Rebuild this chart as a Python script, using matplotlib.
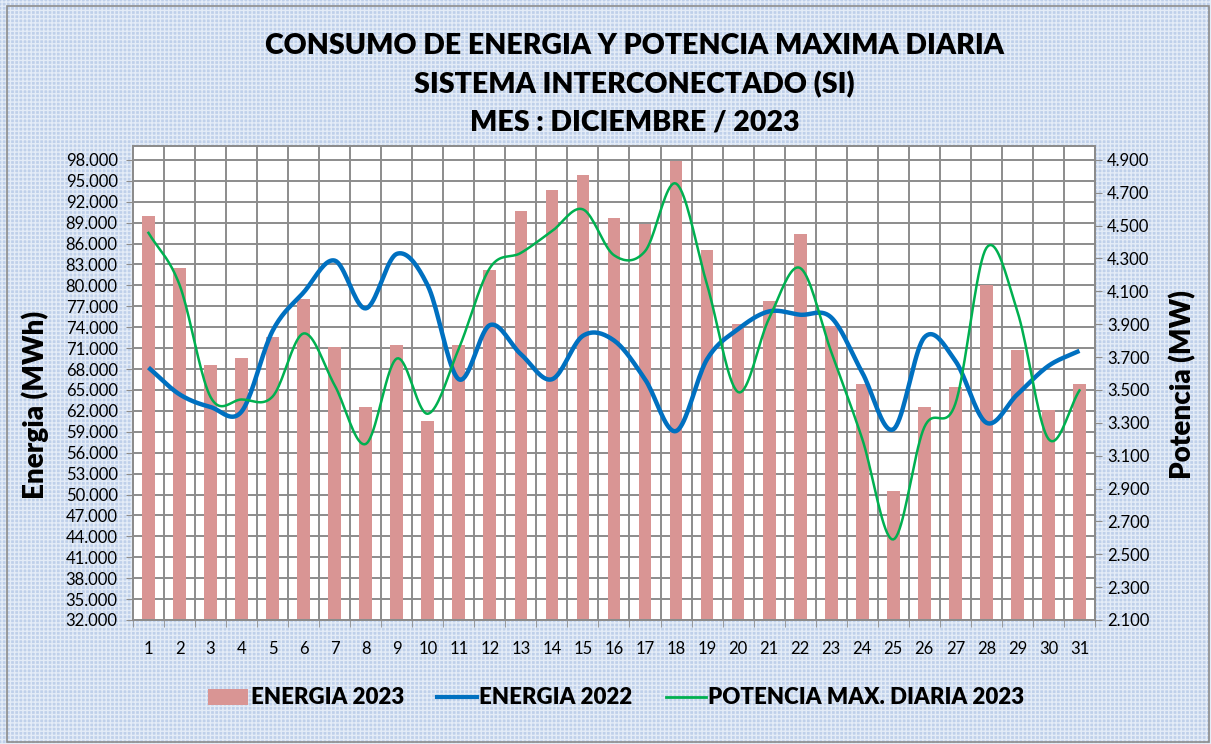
import matplotlib.pyplot as plt
import numpy as np
from matplotlib.patches import Rectangle, Patch
from matplotlib.lines import Line2D
from matplotlib.ticker import FuncFormatter

plt.rcParams['font.family'] = ['Lato', 'DejaVu Sans']

dias = np.arange(1, 32)

# MWh
energia_2023 = [89940, 82500, 68550, 69600, 72530, 78040, 71090, 62600, 71420, 60490,
                71420, 82210, 90650, 93720, 95790, 89600, 88830, 97900, 85090, 74440,
                77710, 87440, 74110, 65810, 50560, 62600, 65480, 80100, 70660, 62070,
                65810]
energia_2022 = [68210, 64370, 62550, 61900, 73490, 79000, 83560, 76700, 84520, 79960,
                66530, 74300, 70130, 66530, 72770, 72100, 66530, 59100, 69410, 73730,
                76270, 75790, 75400, 67490, 59340, 72530, 69170, 60300, 64370, 68450,
                70610]
# MW
potencia_2023 = [4456, 4140, 3457, 3442, 3460, 3844, 3528, 3171, 3691, 3355,
                 3752, 4242, 4334, 4466, 4599, 4320, 4344, 4756, 4140, 3487,
                 3936, 4242, 3732, 3202, 2590, 3273, 3416, 4364, 3977, 3202,
                 3497]


def suavizar(x, y, n=20):
    # catmull-rom, like excel's smoothed line
    x = np.asarray(x, float)
    y = np.asarray(y, float)
    px = np.concatenate([[2 * x[0] - x[1]], x, [2 * x[-1] - x[-2]]])
    py = np.concatenate([[2 * y[0] - y[1]], y, [2 * y[-1] - y[-2]]])
    xs, ys = [], []
    t = np.linspace(0, 1, n, endpoint=False)
    for i in range(1, len(px) - 2):
        for p, out in ((px, xs), (py, ys)):
            p0, p1, p2, p3 = p[i - 1], p[i], p[i + 1], p[i + 2]
            out.extend(0.5 * (2 * p1 + (-p0 + p2) * t + (2 * p0 - 5 * p1 + 4 * p2 - p3) * t ** 2
                              + (-p0 + 3 * p1 - 3 * p2 + p3) * t ** 3))
    xs.append(x[-1])
    ys.append(y[-1])
    return np.array(xs), np.array(ys)


fig = plt.figure(figsize=(12.11, 7.44), dpi=100)
fig.patch.set_facecolor('#BFD0EA')
fig.patches.append(Rectangle((0, 0), 1, 1, transform=fig.transFigure, facecolor='none',
                             edgecolor='#E4ECF7', hatch='++++', linewidth=0, zorder=-5))
fig.patches.append(Rectangle((0.006, 0.003), 0.992, 0.989, transform=fig.transFigure,
                             facecolor='none', edgecolor='#8C8C8C', linewidth=1.2))

ax = fig.add_axes([0.1098, 0.1667, 0.7944, 0.6371])
ax.set_facecolor('white')
grid_c = '#8C8C8C'

ax.bar(dias, energia_2023, width=0.41, color='#D99594', zorder=2)
bx, by = suavizar(dias, energia_2022)
ax.plot(bx, by, color='#0070C0', linewidth=3.2, zorder=3, solid_capstyle='butt')

ax.set_xlim(0.5, 31.5)
ax.set_ylim(32000, 100000)
ax.set_yticks(np.arange(32000, 98001, 3000))
fmt = FuncFormatter(lambda v, p: f'{int(v):,}'.replace(',', '.'))
ax.yaxis.set_major_formatter(fmt)
ax.set_xticks(dias)
ax.set_xticks(np.arange(0.5, 32, 1), minor=True)
ax.tick_params(axis='x', which='major', length=0, labelsize=12, pad=15)
ax.tick_params(axis='x', which='minor', length=5, color=grid_c)
ax.tick_params(axis='y', labelsize=12, length=5, color=grid_c, pad=6)
ax.grid(True, axis='y', which='major', color=grid_c, linewidth=1.4)
ax.grid(True, axis='x', which='minor', color=grid_c, linewidth=1.4)
ax.set_axisbelow(True)
for s in ax.spines.values():
    s.set_color(grid_c)
    s.set_linewidth(1.4)

ax2 = ax.twinx()
gx, gy = suavizar(dias, potencia_2023)
ax2.plot(gx, gy, color='#00B050', linewidth=1.8, zorder=4)
ax2.set_ylim(2100, 2100 + 2800 * 68000 / 66000)
ax2.set_yticks(np.arange(2100, 4901, 200))
ax2.yaxis.set_major_formatter(fmt)
ax2.tick_params(axis='y', labelsize=12, length=5, color=grid_c)
for s in ax2.spines.values():
    s.set_color(grid_c)
    s.set_linewidth(1.4)

fig.text(35 / 1211, 1 - 405 / 744, 'Energia (MWh)', rotation=90, ha='center', va='center',
         fontsize=20, fontweight='heavy')
fig.text(1183 / 1211, 1 - 385 / 744, 'Potencia (MW)', rotation=90, ha='center', va='center',
         fontsize=20, fontweight='heavy')

titulo = ['CONSUMO DE ENERGIA Y POTENCIA MAXIMA DIARIA',
          'SISTEMA INTERCONECTADO (SI)',
          'MES : DICIEMBRE / 2023']
for i, t in enumerate(titulo):
    fig.text(0.524, 1 - (46 + i * 38.5) / 744, t, ha='center', va='center',
             fontsize=20.5, fontweight='heavy')

handles = [Patch(facecolor='#D99594'),
           Line2D([], [], color='#0070C0', linewidth=3),
           Line2D([], [], color='#00B050', linewidth=2)]
fig.legend(handles, ['ENERGIA 2023', 'ENERGIA 2022', 'POTENCIA MAX. DIARIA 2023'],
           loc='center', bbox_to_anchor=(0.509, 1 - 698 / 744), ncol=3, frameon=False,
           prop={'weight': 'heavy', 'size': 16}, handlelength=1.8, handletextpad=0.1,
           columnspacing=1.5)

plt.savefig('out.png', dpi=100, facecolor=fig.get_facecolor())
